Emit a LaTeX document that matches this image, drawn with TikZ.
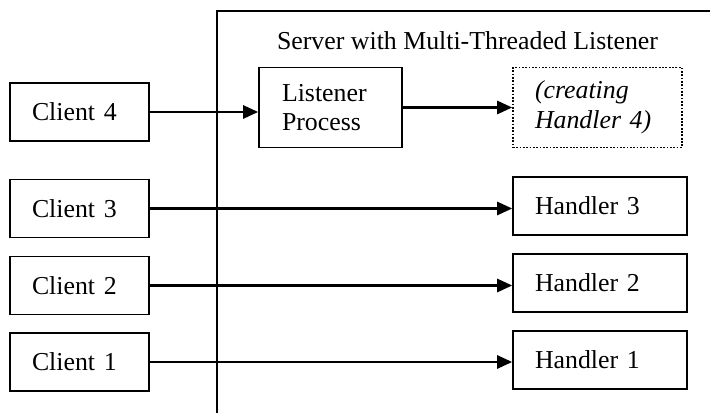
\documentclass[tikz,border=0pt]{standalone}
\usepackage{fontspec}
\setmainfont{Liberation Serif}
\usetikzlibrary{arrows.meta}

\tikzset{
  box/.style={draw, line width=0.9pt, minimum height=1.16cm, align=left,
    inner xsep=0.44cm, inner ysep=0pt},
  clientbox/.style={box, text width=1.9cm},
  handlerbox/.style={box, text width=2.6cm},
  flow/.style={line width=1.5pt, -{Triangle[length=0.3cm, width=0.26cm]}}
}

\begin{document}
\begin{tikzpicture}[font=\fontsize{14.7}{16.9}\selectfont]
\useasboundingbox (0,0) rectangle (14.2,8.26);

% server frame
\draw[line width=1pt] (14.2,8.04) -- (4.34,8.04) -- (4.34,0);
\node (title) at (9.35,7.44) {Server with Multi-Threaded Listener};

% clients
\node[clientbox] (c4) at (1.59,6.02) {Client 4};
\node[clientbox] (c3) at (1.59,4.09) {Client 3};
\node[clientbox] (c2) at (1.59,2.55) {Client 2};
\node[clientbox] (c1) at (1.59,1.02) {Client 1};

% listener and the handler being made
\node[box, text width=1.94cm, inner xsep=0.46cm, minimum height=1.6cm] (lp) at (6.61,6.11) {Listener\\Process};
\node[box, dash pattern=on 1pt off 0.9pt, text width=2.5cm, minimum height=1.6cm, font=\fontsize{14.7}{16.9}\selectfont\itshape] (h4) at (11.95,6.11) {(creating\\Handler 4)};

% handlers
\node[handlerbox] (h3) at (12,4.14) {Handler 3};
\node[handlerbox] (h2) at (12,2.6) {Handler 2};
\node[handlerbox] (h1) at (12,1.06) {Handler 1};

% connections
\draw[flow] (c4) -- (c4 -| lp.west);
\draw[flow] (lp) -- (h4);
\draw[flow] (c3) -- (c3 -| h3.west);
\draw[flow] (c2) -- (c2 -| h2.west);
\draw[flow] (c1) -- (c1 -| h1.west);
\end{tikzpicture}
\end{document}
